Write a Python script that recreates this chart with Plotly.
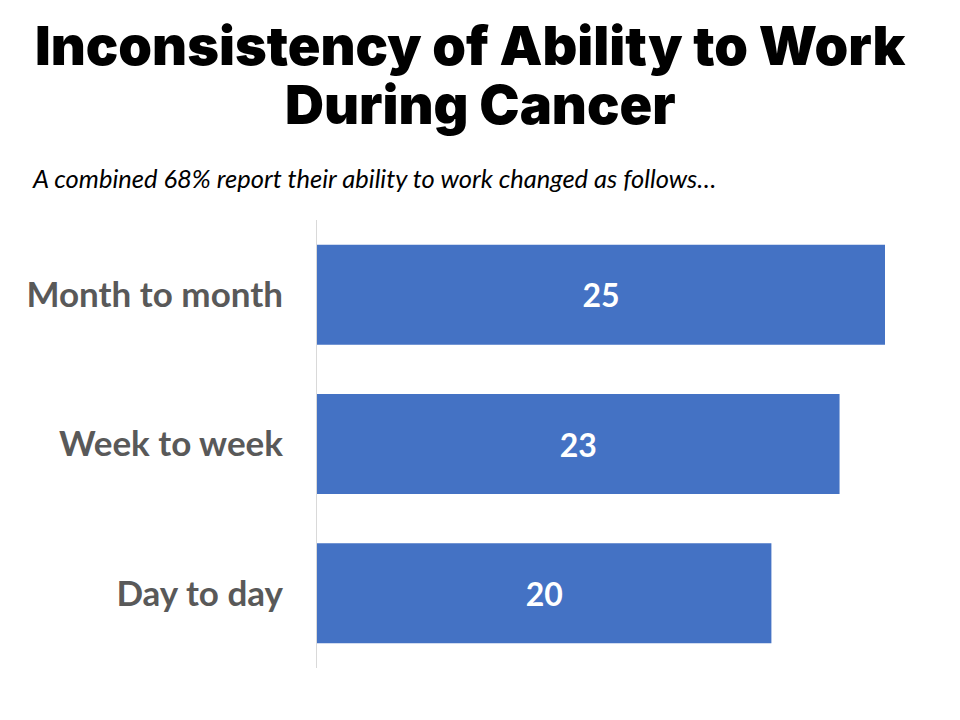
import plotly.graph_objects as go

categories = ["Month to month", "Week to week", "Day to day"]
values = [25, 23, 20]

title_lines = ["Inconsistency of Ability to Work", "During Cancer"]
subtitle_text = "A combined 68% report their ability to work changed as follows…"

BAR_COLOR = "#4472C4"
LABEL_COLOR = "#595959"

PLOT_TOP, PLOT_H, PLOT_L, PLOT_W = 220, 448, 317, 568


def py(ypix):
    return 1 + (PLOT_TOP - ypix) / PLOT_H


def px(xpix):
    return (xpix - PLOT_L) / PLOT_W


fig = go.Figure(
    go.Bar(
        x=values,
        y=categories,
        orientation="h",
        marker=dict(color=BAR_COLOR, line=dict(width=0)),
        text=[str(v) for v in values],
        textposition="inside",
        insidetextanchor="middle",
        textangle=0,
        constraintext="none",
        textfont=dict(family="Lato", size=32, color="white", weight="bold"),
        hoverinfo="skip",
    )
)

title_font = dict(family="Inter", size=54, color="black", weight=900)
annotations = [
    dict(text=title_lines[0], xref="paper", yref="paper", x=px(470), y=py(45),
         xanchor="center", yanchor="middle", showarrow=False, font=title_font),
    dict(text=title_lines[1], xref="paper", yref="paper", x=px(480), y=py(105),
         xanchor="center", yanchor="middle", showarrow=False, font=title_font),
    dict(text=subtitle_text, xref="paper", yref="paper", x=px(30), y=py(178),
         xanchor="left", yanchor="middle", showarrow=False,
         font=dict(family="Lato", size=25.5, color="black", style="italic")),
]

fig.update_layout(
    width=960,
    height=720,
    paper_bgcolor="white",
    plot_bgcolor="white",
    margin=dict(l=PLOT_L, r=960 - PLOT_L - PLOT_W, t=PLOT_TOP, b=720 - PLOT_TOP - PLOT_H),
    bargap=0.33,
    showlegend=False,
    annotations=annotations,
)

fig.update_xaxes(range=[0, 25], visible=False, showgrid=False, zeroline=False)

fig.update_yaxes(
    autorange="reversed",
    showgrid=False,
    zeroline=False,
    showline=True,
    linecolor="#D9D9D9",
    linewidth=1,
    ticks="",
    ticklabelstandoff=26,
    tickfont=dict(family="Lato", size=35, color=LABEL_COLOR, weight="bold"),
)

fig.write_html("out.html")
